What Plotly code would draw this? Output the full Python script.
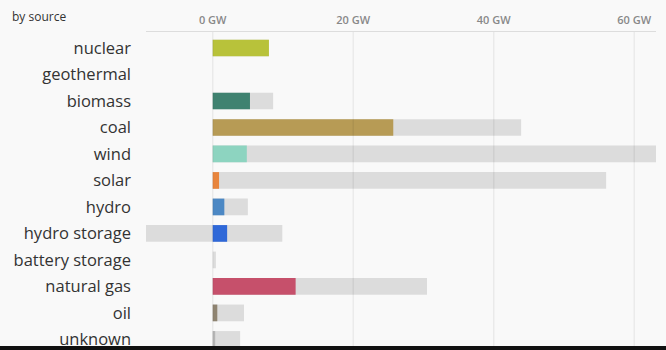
import plotly.graph_objects as go

# Generation by source (GW)
sources = ["nuclear", "geothermal", "biomass", "coal", "wind", "solar", "hydro",
           "hydro storage", "battery storage", "natural gas", "oil", "unknown"]
production = [8.0, 0.0, 5.3, 25.7, 4.85, 0.9, 1.65, 2.05, 0.0, 11.8, 0.65, 0.35]
capacity_max = [8.0, 0.0, 8.6, 43.9, 63.1, 56.0, 5.0, 9.9, 0.45, 30.5, 4.45, 3.9]
capacity_min = [0.0, 0.0, 0.0, 0.0, 0.0, 0.0, 0.0, -9.5, 0.0, 0.0, 0.0, 0.0]
colors = ["#b8c23a", "#3f8270", "#3f8270", "#b79b55", "#8dd4c0", "#e8853d", "#4c88c4",
          "#2f68d8", "#9a9a9a", "#c6506b", "#8f8471", "#b5b5b5"]
tick_vals = [0, 20, 40, 60]
tick_text = ["0 GW", "20 GW", "40 GW", "60 GW"]

capacity_span = [hi - lo for hi, lo in zip(capacity_max, capacity_min)]

fig = go.Figure()
fig.add_trace(go.Bar(
    y=sources, x=capacity_span, base=capacity_min, orientation="h",
    marker=dict(color="#dcdcdc", line=dict(width=0)), width=0.63,
    name="capacity", hoverinfo="skip",
))
fig.add_trace(go.Bar(
    y=sources, x=production, orientation="h",
    marker=dict(color=colors, line=dict(width=0)), width=0.63,
    name="production",
))

# grid lines drawn over the bars
for v in tick_vals:
    fig.add_shape(type="line", xref="x", yref="paper", x0=v, x1=v, y0=0, y1=1,
                  line=dict(color="rgba(0,0,0,0.06)", width=1.5), layer="above")

# dark strip along the bottom edge
fig.add_shape(type="rect", xref="paper", yref="paper", x0=-1, x1=1.1, y0=0, y1=4 / 318,
              fillcolor="#111111", line=dict(width=0), layer="above")

fig.add_annotation(text="by source", xref="paper", yref="paper", x=-136 / 510, y=1 + 16 / 318,
                   xanchor="left", yanchor="middle", showarrow=False,
                   font=dict(family="Open Sans", size=12, color="#333333"))

fig.update_layout(
    width=666, height=350,
    margin=dict(l=146, r=10, t=32, b=0),
    paper_bgcolor="#f9f9f9", plot_bgcolor="#f9f9f9",
    barmode="overlay", showlegend=False,
    font=dict(family="Open Sans"),
    xaxis=dict(
        side="top", range=[-9.5, 63.1], tickmode="array", tickvals=tick_vals, ticktext=tick_text,
        showgrid=False, zeroline=False, showline=True, linecolor="#dddddd", linewidth=1,
        ticks="", ticklabelstandoff=3,
        tickfont=dict(family="Open Sans", size=11, color="#888888", weight=600),
    ),
    yaxis=dict(
        range=[11.4, -0.604], showgrid=False, zeroline=False, showline=False,
        ticks="", ticklabelstandoff=14,
        tickfont=dict(family="Open Sans", size=16.5, color="#333333"),
    ),
)

fig.write_html("out.html")
